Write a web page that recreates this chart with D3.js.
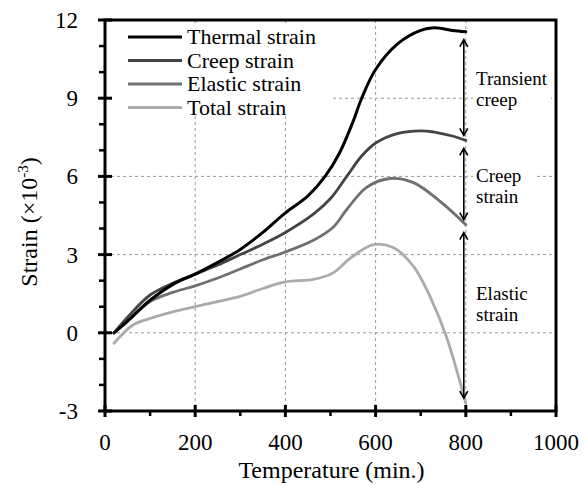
<!DOCTYPE html>
<html>
<head>
<meta charset="utf-8">
<script src="https://cdn.jsdelivr.net/npm/d3@7"></script>
<style>
  html, body { margin: 0; padding: 0; background: #fff; }
  svg { display: block; font-family: "Liberation Serif", "Times New Roman", serif; }
</style>
</head>
<body>
<svg id="chart" width="588" height="486"></svg>
<script>
// Temperature (x) sample points and the four strain series (×10^-3)
const thermalT = [20, 50, 100, 150, 200, 250, 300, 350, 400, 450, 488, 520, 550, 568, 600, 650, 700, 730, 770, 800];
const thermal  = [0, 0.45, 1.25, 1.85, 2.25, 2.7, 3.2, 3.85, 4.6, 5.25, 6.0, 6.9, 8.1, 8.95, 10.1, 11.1, 11.6, 11.7, 11.6, 11.55];

const creepT = [20, 50, 100, 150, 200, 250, 300, 350, 400, 462, 500, 536, 570, 602, 650, 700, 730, 770, 800];
const creep  = [0, 0.6, 1.45, 1.9, 2.25, 2.6, 3.0, 3.4, 3.85, 4.55, 5.15, 6.0, 6.8, 7.3, 7.65, 7.75, 7.7, 7.55, 7.38];

const elasticT = [20, 50, 100, 150, 200, 250, 300, 350, 400, 462, 506, 536, 580, 632, 684, 743, 800];
const elastic  = [0, 0.45, 1.2, 1.55, 1.8, 2.1, 2.45, 2.8, 3.1, 3.55, 4.05, 4.73, 5.58, 5.92, 5.76, 5.04, 4.15];

const totalT = [20, 62, 100, 150, 200, 250, 300, 350, 400, 462, 506, 543, 595, 639, 684, 721, 757, 800];
const total  = [-0.4, 0.3, 0.55, 0.8, 1.0, 1.2, 1.4, 1.7, 1.95, 2.05, 2.3, 2.85, 3.38, 3.27, 2.55, 1.38, -0.15, -2.7];

const seriesNames = ["Thermal strain", "Creep strain", "Elastic strain", "Total strain"];
const seriesColors = ["#000000", "#444444", "#707070", "#ababab"];

const xTicks = [0, 200, 400, 600, 800, 1000];
const xMinorTicks = [100, 300, 500, 700, 900];
const yTicks = [-3, 0, 3, 6, 9, 12];
const yMinorTicks = [-2, -1, 1, 2, 4, 5, 7, 8, 10, 11];
const xGrid = [200, 400, 600, 800];
const yGrid = [0, 3, 6, 9];

const bandLabels = [["Transient", "creep"], ["Creep", "strain"], ["Elastic", "strain"]];

const svg = d3.select("#chart");
const pL = 105, pR = 556, pT = 20, pB = 411;

const x = d3.scaleLinear().domain([0, 1000]).range([pL, pR]);
const y = d3.scaleLinear().domain([-3, 12]).range([pB, pT]);

// grid lines
const grid = svg.append("g").attr("stroke", "#9a9a9a").attr("stroke-width", 1).attr("stroke-dasharray", "3,3");
grid.selectAll("line.v").data(xGrid).join("line").attr("class", "v")
  .attr("x1", d => x(d)).attr("x2", d => x(d)).attr("y1", pT).attr("y2", pB);
grid.selectAll("line.h").data(yGrid).join("line").attr("class", "h")
  .attr("x1", pL).attr("x2", pR).attr("y1", d => y(d)).attr("y2", d => y(d));

// curves
const series = [
  { t: thermalT, v: thermal },
  { t: creepT, v: creep },
  { t: elasticT, v: elastic },
  { t: totalT, v: total }
];
const line = d3.line().x(d => x(d[0])).y(d => y(d[1])).curve(d3.curveCatmullRom.alpha(0.5));
// draw lightest first so darker lines sit on top
[3, 2, 1, 0].forEach(i => {
  const s = series[i];
  svg.append("path")
    .datum(s.t.map((t, k) => [t, s.v[k]]))
    .attr("fill", "none")
    .attr("stroke", seriesColors[i])
    .attr("stroke-width", i === 0 ? 3 : 2.8)
    .attr("stroke-linejoin", "round")
    .attr("stroke-linecap", "round")
    .attr("d", line);
});

// legend with white background
svg.append("rect").attr("x", pL + 2).attr("y", pT + 4).attr("width", 226).attr("height", 92).attr("fill", "#fff");
const leg = svg.append("g");
seriesNames.forEach((name, i) => {
  const yy = 37 + i * 23.5;
  leg.append("line").attr("x1", 128).attr("x2", 182).attr("y1", yy).attr("y2", yy)
    .attr("stroke", seriesColors[i]).attr("stroke-width", 3);
  leg.append("text").attr("x", 187).attr("y", yy + 7).attr("font-size", 22).attr("fill", "#000").text(name);
});

// band labels with double arrows at the end of the curves
const endVals = [thermal[thermal.length - 1], creep[creep.length - 1], elastic[elastic.length - 1], total[total.length - 1]];
const ax = x(800) - 2;
const labelBoxes = [[473, 66, 78, 44], [473, 160, 62, 48], [473, 278, 62, 50]];
const labelBase = [85, 182, 300];
function head(g, xx, yy, dir) {
  g.append("path")
    .attr("d", `M${xx - 4},${yy + dir * 7} L${xx},${yy} L${xx + 4},${yy + dir * 7}`)
    .attr("fill", "none").attr("stroke", "#000").attr("stroke-width", 1.6);
}
for (let i = 0; i < 3; i++) {
  const y1 = y(endVals[i]) + 8, y2 = y(endVals[i + 1]) - 5;
  const g = svg.append("g");
  g.append("line").attr("x1", ax).attr("x2", ax).attr("y1", y1).attr("y2", y2)
    .attr("stroke", "#000").attr("stroke-width", 1.6);
  head(g, ax, y1, 1);
  head(g, ax, y2, -1);
  const b = labelBoxes[i];
  svg.append("rect").attr("x", b[0]).attr("y", b[1]).attr("width", b[2]).attr("height", b[3]).attr("fill", "#fff");
  bandLabels[i].forEach((w, k) => {
    svg.append("text").attr("x", 476).attr("y", labelBase[i] + k * 20.5)
      .attr("font-size", 19).attr("fill", "#000").text(w);
  });
}

// frame
svg.append("rect").attr("x", pL).attr("y", pT).attr("width", pR - pL).attr("height", pB - pT)
  .attr("fill", "none").attr("stroke", "#000").attr("stroke-width", 3);

// ticks
const tk = svg.append("g").attr("stroke", "#000");
tk.selectAll("line.xM").data(xTicks).join("line").attr("class", "xM")
  .attr("x1", d => x(d)).attr("x2", d => x(d)).attr("y1", pB - 6).attr("y2", pB + 6).attr("stroke-width", 3);
tk.selectAll("line.xm").data(xMinorTicks).join("line").attr("class", "xm")
  .attr("x1", d => x(d)).attr("x2", d => x(d)).attr("y1", pB).attr("y2", pB + 5).attr("stroke-width", 2.5);
tk.selectAll("line.yM").data(yTicks).join("line").attr("class", "yM")
  .attr("x1", pL - 7).attr("x2", pL + 7).attr("y1", d => y(d)).attr("y2", d => y(d)).attr("stroke-width", 3);
tk.selectAll("line.ym").data(yMinorTicks).join("line").attr("class", "ym")
  .attr("x1", pL - 6).attr("x2", pL).attr("y1", d => y(d)).attr("y2", d => y(d)).attr("stroke-width", 2.5);

// tick labels
svg.append("g").selectAll("text").data(xTicks).join("text")
  .attr("x", d => x(d)).attr("y", 450).attr("text-anchor", "middle").attr("font-size", 23).text(d => d);
svg.append("g").selectAll("text").data(yTicks).join("text")
  .attr("x", 78).attr("y", d => y(d) + 8).attr("text-anchor", "end").attr("font-size", 23).text(d => d);

// axis titles
svg.append("text").attr("x", (pL + pR) / 2 + 1).attr("y", 478).attr("text-anchor", "middle")
  .attr("font-size", 24).text("Temperature (min.)");
const yt = svg.append("text").attr("transform", "translate(37,222) rotate(-90)")
  .attr("text-anchor", "middle").attr("font-size", 24);
yt.append("tspan").text("Strain (×10");
yt.append("tspan").attr("font-size", 15).attr("dy", -9).text("-3");
yt.append("tspan").attr("dy", 9).text(")");
</script>
</body>
</html>
